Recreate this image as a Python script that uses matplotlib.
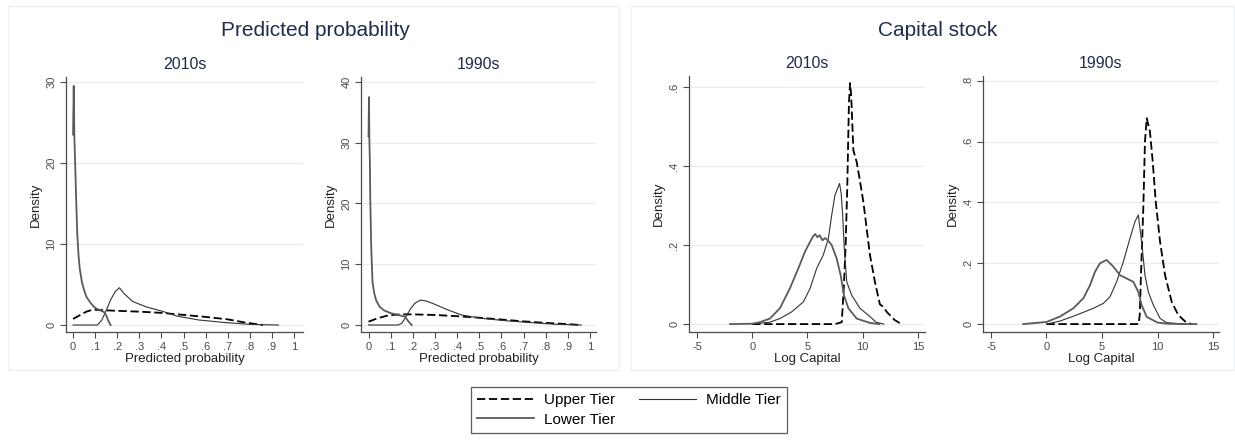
import matplotlib
matplotlib.use("Agg")
import matplotlib.pyplot as plt
from matplotlib.patches import Rectangle

plt.rcParams["font.family"] = ["Liberation Sans", "DejaVu Sans"]

# --- predicted probability, 2010s ---
pp10_upper_x = [0, 0.03, 0.06, 0.09, 0.12, 0.2, 0.3, 0.4, 0.5, 0.6, 0.7, 0.78, 0.86]
pp10_upper_y = [0.75, 1.2, 1.65, 1.9, 1.85, 1.75, 1.65, 1.5, 1.25, 1.0, 0.7, 0.3, 0.0]
pp10_middle_x = [0, 0.11, 0.13, 0.15, 0.17, 0.19, 0.21, 0.23, 0.27, 0.33, 0.41, 0.47, 0.57, 0.69, 0.8, 0.93]
pp10_middle_y = [0, 0, 0.6, 1.8, 3.1, 4.1, 4.6, 3.9, 2.9, 2.25, 1.65, 1.1, 0.62, 0.3, 0.08, 0]
pp10_lower_x = [0.0, 0.003, 0.006, 0.01, 0.014, 0.019, 0.025, 0.03, 0.04, 0.05, 0.06, 0.08, 0.1, 0.12, 0.14, 0.15, 0.16, 0.17]
pp10_lower_y = [23.5, 29.5, 23.0, 19.5, 15.4, 11.3, 8.5, 7.0, 5.3, 4.3, 3.5, 2.7, 2.1, 1.85, 1.6, 1.2, 0.5, 0.0]

# --- predicted probability, 1990s ---
pp90_upper_x = [0, 0.04, 0.09, 0.15, 0.2, 0.3, 0.4, 0.5, 0.6, 0.7, 0.8, 0.9, 0.96]
pp90_upper_y = [0.55, 1.1, 1.6, 1.75, 1.75, 1.65, 1.45, 1.2, 0.9, 0.6, 0.35, 0.15, 0.0]
pp90_middle_x = [0, 0.135, 0.15, 0.165, 0.19, 0.21, 0.235, 0.26, 0.29, 0.35, 0.42, 0.51, 0.62, 0.74, 0.84, 0.96]
pp90_middle_y = [0, 0, 0.3, 1.1, 2.7, 3.6, 4.1, 3.95, 3.55, 2.6, 1.65, 1.1, 0.7, 0.38, 0.13, 0]
pp90_lower_x = [0, 0.002, 0.004, 0.006, 0.008, 0.012, 0.018, 0.026, 0.035, 0.05, 0.07, 0.1, 0.13, 0.165, 0.18, 0.195]
pp90_lower_y = [31, 37.5, 30, 27, 20.5, 13, 7, 5.2, 4.0, 3.0, 2.4, 1.95, 1.7, 1.35, 0.6, 0]

# --- log capital, 2010s ---
kc10_upper_x = [0, 2, 4, 6, 7.5, 8.1, 8.3, 8.45, 8.6, 8.75, 8.85, 8.95, 9.15, 9.45, 9.7, 10.05, 10.65, 11.1, 11.55, 11.8, 12.2, 12.9, 13.5]
kc10_upper_y = [0, 0, 0, 0, 0, 0.005, 0.1, 0.2, 0.35, 0.56, 0.61, 0.58, 0.44, 0.41, 0.37, 0.31, 0.175, 0.107, 0.05, 0.045, 0.03, 0.01, 0]
kc10_middle_x = [0, 1.6, 2.5, 3.57, 4.62, 5.23, 5.83, 6.43, 6.89, 7.19, 7.49, 7.9, 8.05, 8.18, 8.33, 8.55, 9.0, 9.75, 10.65, 11.2, 11.9]
kc10_middle_y = [0, 0.005, 0.014, 0.031, 0.056, 0.09, 0.141, 0.175, 0.217, 0.276, 0.327, 0.356, 0.33, 0.276, 0.19, 0.107, 0.073, 0.04, 0.019, 0.005, 0]
kc10_lower_x = [-2.0, 0, 0.7, 1.6, 2.5, 3.4, 4.17, 4.77, 5.23, 5.5, 5.7, 5.9, 6.1, 6.35, 6.6, 6.9, 7.19, 7.64, 8.0, 8.3, 8.7, 9.45, 10.65, 11.5]
kc10_lower_y = [0, 0.001, 0.005, 0.014, 0.04, 0.09, 0.141, 0.183, 0.208, 0.222, 0.228, 0.22, 0.225, 0.212, 0.218, 0.21, 0.2, 0.166, 0.124, 0.073, 0.04, 0.014, 0.003, 0]

# --- log capital, 1990s ---
kc90_upper_x = [0, 3, 6, 8.3, 8.4, 8.51, 8.72, 8.87, 9.03, 9.32, 9.57, 9.84, 10.23, 10.68, 11.28, 11.87, 12.6, 13.1]
kc90_upper_y = [0, 0, 0, 0, 0.03, 0.161, 0.38, 0.6, 0.677, 0.633, 0.534, 0.403, 0.271, 0.161, 0.073, 0.03, 0.005, 0]
kc90_middle_x = [0, 1.22, 2.72, 4.22, 5.12, 5.72, 6.32, 6.92, 7.52, 7.97, 8.27, 8.57, 8.87, 9.17, 9.62, 10.23, 10.8, 12.3]
kc90_middle_y = [0, 0.01, 0.03, 0.052, 0.068, 0.09, 0.139, 0.205, 0.282, 0.337, 0.359, 0.271, 0.161, 0.106, 0.063, 0.019, 0.005, 0]
kc90_lower_x = [-2.1, 0, 1.22, 2.42, 3.32, 3.92, 4.37, 4.82, 5.42, 6.02, 6.62, 7.22, 7.82, 8.27, 8.57, 9.02, 10, 11, 13.5]
kc90_lower_y = [0, 0.007, 0.025, 0.052, 0.085, 0.128, 0.172, 0.2, 0.211, 0.189, 0.161, 0.15, 0.139, 0.106, 0.063, 0.024, 0.005, 0.001, 0]

# ticks
prob_xticks = [0, 0.1, 0.2, 0.3, 0.4, 0.5, 0.6, 0.7, 0.8, 0.9, 1]
prob_xlabels = ["0", ".1", ".2", ".3", ".4", ".5", ".6", ".7", ".8", ".9", "1"]
cap_xticks = [-5, 0, 5, 10, 15]
cap_xlabels = ["-5", "0", "5", "10", "15"]

series_labels = ["Upper Tier", "Middle Tier", "Lower Tier"]

TITLE_COL = "#1f2d4d"
GRID_COL = "#e8edf1"
AXIS_COL = "#4a4a4a"

styles = {
    "Upper Tier": dict(color="black", lw=1.3, dashes=(4.6, 2.0)),
    "Middle Tier": dict(color="#333333", lw=0.8),
    "Lower Tier": dict(color="#5a5a5a", lw=1.3),
}

fig = plt.figure(figsize=(12.35, 4.4), dpi=100)
W, H = 1235.0, 440.0


def box(left, right, top=77, bottom=332):
    return [left / W, 1 - bottom / H, (right - left) / W, (bottom - top) / H]


def panel(rect, title, curves, xlim, ylim, xticks, xlabels, yticks, ylabels, xlabel):
    ax = fig.add_axes(rect)
    for name, (xs, ys) in zip(series_labels, curves):
        ax.plot(xs, ys, label=name, **styles[name])
    ax.set_xlim(*xlim)
    ax.set_ylim(*ylim)
    ax.set_xticks(xticks)
    ax.set_xticklabels(xlabels)
    ax.set_yticks(yticks)
    ax.set_yticklabels(ylabels, rotation=90, va="center")
    for y in yticks:
        ax.axhline(y, color=GRID_COL, lw=1, zorder=0)
    for s in ["top", "right"]:
        ax.spines[s].set_visible(False)
    for s in ["left", "bottom"]:
        ax.spines[s].set_color(AXIS_COL)
        ax.spines[s].set_linewidth(0.9)
    ax.tick_params(colors=AXIS_COL, labelsize=8, length=4, width=0.8, pad=3)
    ax.set_xlabel(xlabel, fontsize=9.5, color="#222222", labelpad=1)
    ax.set_ylabel("Density", fontsize=9.5, color="#222222", labelpad=3)
    ax.set_title(title, fontsize=11.5, color=TITLE_COL, pad=6)
    return ax


ax1 = panel(box(66, 303), "2010s",
            [(pp10_upper_x, pp10_upper_y), (pp10_middle_x, pp10_middle_y), (pp10_lower_x, pp10_lower_y)],
            (-0.032, 1.041), (-0.86, 30.6), prob_xticks, prob_xlabels,
            [0, 10, 20, 30], ["0", "10", "20", "30"], "Predicted probability")
ax2 = panel(box(361, 596), "1990s",
            [(pp90_upper_x, pp90_upper_y), (pp90_middle_x, pp90_middle_y), (pp90_lower_x, pp90_lower_y)],
            (-0.034, 1.027), (-1.15, 40.8), prob_xticks, prob_xlabels,
            [0, 10, 20, 30, 40], ["0", "10", "20", "30", "40"], "Predicted probability")
ax3 = panel(box(689, 925, top=76), "2010s",
            [(kc10_upper_x, kc10_upper_y), (kc10_middle_x, kc10_middle_y), (kc10_lower_x, kc10_lower_y)],
            (-5.72, 15.63), (-0.02, 0.628), cap_xticks, cap_xlabels,
            [0, 0.2, 0.4, 0.6], ["0", ".2", ".4", ".6"], "Log Capital")
ax4 = panel(box(983, 1219, top=76), "1990s",
            [(kc90_upper_x, kc90_upper_y), (kc90_middle_x, kc90_middle_y), (kc90_lower_x, kc90_lower_y)],
            (-5.72, 15.54), (-0.026, 0.816), cap_xticks, cap_xlabels,
            [0, 0.2, 0.4, 0.6, 0.8], ["0", ".2", ".4", ".6", ".8"], "Log Capital")

# group frames and headings
for x0, w in [(8, 611), (631, 603)]:
    fig.patches.append(Rectangle((x0 / W, 1 - 370 / H), w / W, 364 / H, transform=fig.transFigure,
                                 fill=False, edgecolor="#edf0f3", lw=1))
fig.text(315 / W, 1 - 30 / H, "Predicted probability", fontsize=15, color=TITLE_COL, ha="center", va="center")
fig.text(938 / W, 1 - 30 / H, "Capital stock", fontsize=15, color=TITLE_COL, ha="center", va="center")

h = {l.get_label(): l for l in ax1.get_lines()}
leg = fig.legend([h["Upper Tier"], h["Lower Tier"], h["Middle Tier"]],
                 ["Upper Tier", "Lower Tier", "Middle Tier"],
                 ncol=2, loc="center", bbox_to_anchor=(629 / W, 1 - 410 / H),
                 fontsize=11, frameon=True, fancybox=False, edgecolor="#333333",
                 handlelength=3.7, handletextpad=0.65, columnspacing=1.6,
                 borderpad=0.4, labelspacing=0.35, borderaxespad=0)
leg.get_frame().set_linewidth(0.9)

fig.savefig("out.png", dpi=100)
